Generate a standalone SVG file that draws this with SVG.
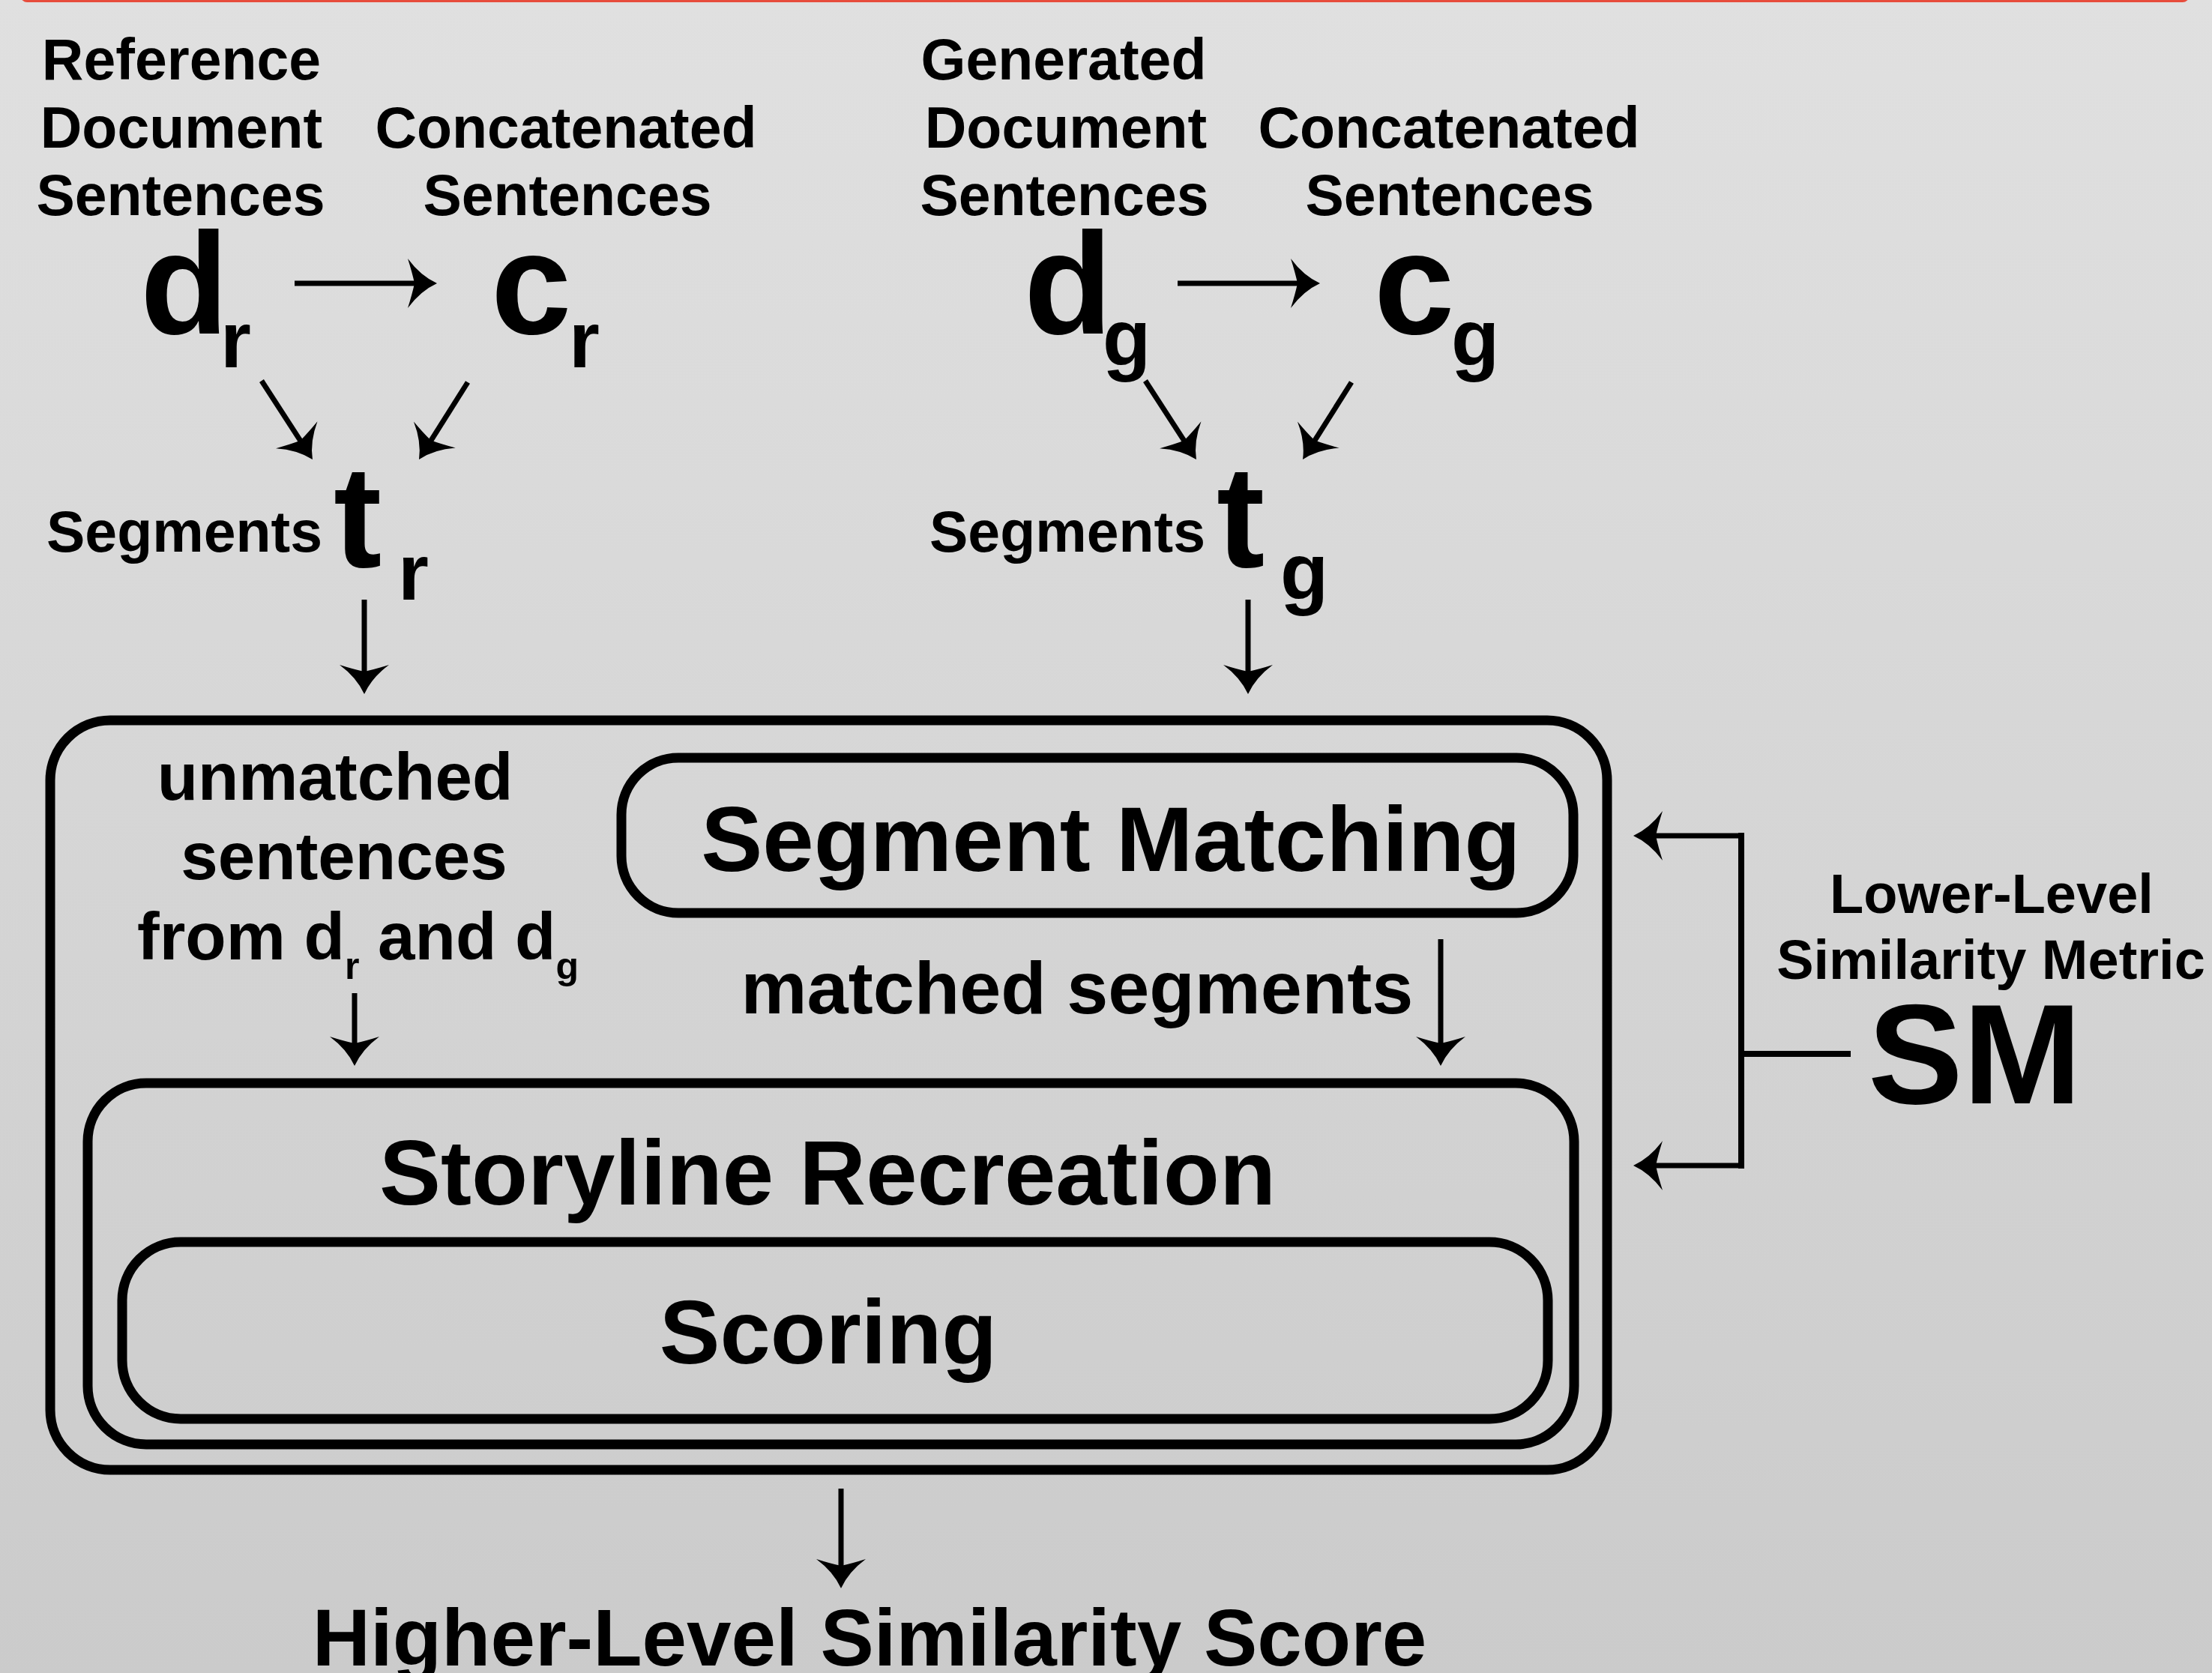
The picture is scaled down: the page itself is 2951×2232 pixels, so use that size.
<svg xmlns="http://www.w3.org/2000/svg" width="2951" height="2232" viewBox="0 0 2951 2232">
<defs>
<linearGradient id="bg" x1="0" y1="0" x2="0" y2="1">
<stop offset="0" stop-color="#e0e0e0"/>
<stop offset="1" stop-color="#cbcbcb"/>
</linearGradient>
<marker id="ah" markerUnits="userSpaceOnUse" viewBox="-45 -40 50 80" refX="-15" refY="0" markerWidth="50" markerHeight="80" orient="auto">
<path d="M0,0 Q-22,-10 -39,-33 Q-33,-14 -30,0 Q-33,14 -39,33 Q-22,10 0,0 Z" fill="#000"/>
</marker>
</defs>
<style>
text { font-family: "Liberation Sans", Arial, sans-serif; font-weight: bold; fill: #000; }
.lbl { font-size: 77px; text-anchor: middle; }
.big { font-size: 193px; }
.sub { font-size: 105px; }
.box { fill: none; stroke: #000; stroke-width: 13; }
.arr { fill: none; stroke: #000; stroke-width: 7; marker-end: url(#ah); }
.conn { fill: none; stroke: #000; stroke-width: 8; }
</style>
<rect x="0" y="0" width="2951" height="2232" fill="url(#bg)"/>
<rect x="28" y="-12" width="2892" height="15" rx="8" fill="#e74c3c"/>

<g id="ref-doc">
<text class="lbl" x="242" y="106">Reference</text>
<text class="lbl" x="242" y="197">Document</text>
<text class="lbl" x="241" y="287">Sentences</text>
<text class="big" x="187" y="445">d</text>
<text class="sub" x="294" y="490">r</text>
</g>
<g id="ref-concat">
<text class="lbl" x="755" y="197">Concatenated</text>
<text class="lbl" x="757" y="287">Sentences</text>
<text class="big" x="655" y="445">c</text>
<text class="sub" x="759" y="490">r</text>
</g>
<g id="ref-seg">
<text class="lbl" x="246" y="736">Segments</text>
<text class="big" x="445" y="756">t</text>
<text class="sub" x="531" y="800">r</text>
</g>

<g id="gen-doc">
<text class="lbl" x="1419" y="106">Generated</text>
<text class="lbl" x="1422" y="197">Document</text>
<text class="lbl" x="1420" y="287">Sentences</text>
<text class="big" x="1366" y="445">d</text>
<text class="sub" x="1471" y="488">g</text>
</g>
<g id="gen-concat">
<text class="lbl" x="1933" y="197">Concatenated</text>
<text class="lbl" x="1934" y="287">Sentences</text>
<text class="big" x="1833" y="445">c</text>
<text class="sub" x="1936" y="488">g</text>
</g>
<g id="gen-seg">
<text class="lbl" x="1424" y="736">Segments</text>
<text class="big" x="1623" y="756">t</text>
<text class="sub" x="1708" y="800">g</text>
</g>

<g id="outer-box">
<rect class="box" x="67" y="961" width="2077" height="1000" rx="80" ry="80"/>
<text x="447" y="1067" font-size="89" text-anchor="middle">unmatched</text>
<text x="459" y="1173" font-size="89" text-anchor="middle">sentences</text>
<text x="183" y="1280" font-size="89">from d<tspan font-size="50" dy="26">r</tspan><tspan dy="-26"> and d</tspan><tspan font-size="50" dy="26">g</tspan></text>
<text x="1437" y="1352" font-size="99" text-anchor="middle">matched segments</text>
</g>
<g id="segment-matching">
<rect class="box" x="829" y="1011" width="1270" height="207" rx="76" ry="76"/>
<text x="1482" y="1162" font-size="123" text-anchor="middle">Segment Matching</text>
</g>
<g id="storyline-recreation">
<rect class="box" x="117" y="1445" width="1983" height="482" rx="78" ry="78"/>
<text x="1104" y="1607" font-size="123" text-anchor="middle">Storyline Recreation</text>
</g>
<g id="scoring">
<rect class="box" x="163" y="1657" width="1902" height="236" rx="78" ry="78"/>
<text x="1105" y="1819" font-size="121" text-anchor="middle">Scoring</text>
</g>
<g id="sm">
<text x="2657" y="1218" font-size="74" text-anchor="middle">Lower-Level</text>
<text x="2656" y="1306" font-size="74" text-anchor="middle">Similarity Metric</text>
<text x="2492" y="1472" font-size="190">SM</text>
</g>
<g id="result">
<text x="1160" y="2222" font-size="107" text-anchor="middle">Higher-Level Similarity Score</text>
</g>

<g id="connectors">
<line class="arr" x1="393" y1="378" x2="568" y2="378"/>
<line class="arr" x1="1571" y1="378" x2="1746" y2="378"/>
<line class="arr" x1="349" y1="508" x2="408.8" y2="600.4"/>
<line class="arr" x1="624" y1="510" x2="567" y2="600.3"/>
<line class="arr" x1="1528" y1="508" x2="1587.8" y2="600.4"/>
<line class="arr" x1="1803" y1="510" x2="1746" y2="600.3"/>
<line class="arr" x1="486" y1="800" x2="486" y2="911"/>
<line class="arr" x1="1665" y1="800" x2="1665" y2="911"/>
<line class="arr" x1="473" y1="1325" x2="473" y2="1407"/>
<line class="arr" x1="1922" y1="1253" x2="1922" y2="1407"/>
<line class="arr" x1="1122" y1="1986" x2="1122" y2="2104"/>
<path class="conn" d="M2469,1406 H2323 M2323,1111 V1559"/>
<line class="arr" x1="2327" y1="1115" x2="2194" y2="1115" stroke-width="8"/>
<line class="arr" x1="2327" y1="1555" x2="2194" y2="1555" stroke-width="8"/>
</g>
</svg>
